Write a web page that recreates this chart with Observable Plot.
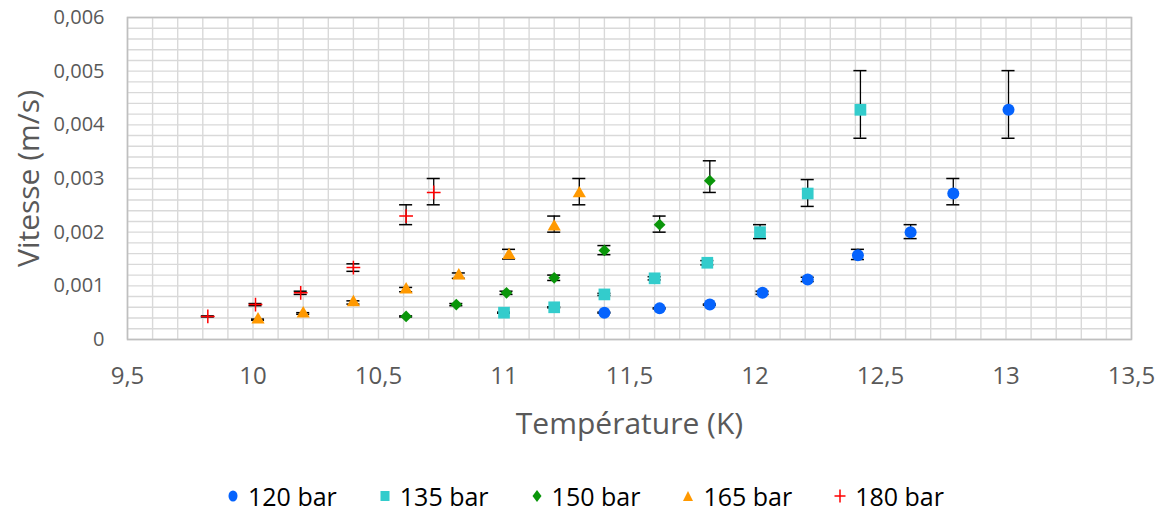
<!DOCTYPE html>
<html><head><meta charset="utf-8">
<script src="https://cdn.jsdelivr.net/npm/d3@7"></script>
<script src="https://cdn.jsdelivr.net/npm/@observablehq/plot@0.6"></script>
<style>
body{margin:0;background:#fff;font-family:"Open Sans",sans-serif;}
#chart svg{display:block;}
#legend{display:flex;justify-content:center;align-items:center;gap:42px;font-size:25px;color:#000;height:40px;margin-top:16px;padding-left:6px;}
#legend span{display:flex;align-items:center;gap:9px;}
</style></head><body>
<div id="chart"></div>
<div id="legend"></div>
<script>
const series = ["120 bar","135 bar","150 bar","165 bar","180 bar"];
const colors = ["#0563fd","#33cccc","#0a960a","#ff9900","#ff0000"];
const symbols = ["circle","square","diamond2","triangle","plus"];

const T120 = [11.4, 11.62, 11.82, 12.03, 12.21, 12.41, 12.62, 12.79, 13.01];
const V120 = [0.0005, 0.00058, 0.00065, 0.00087, 0.00112, 0.00157, 0.00200, 0.00272, 0.00428];
const L120 = [0.00049, 0.00057, 0.00064, 0.00084, 0.00108, 0.00149, 0.00188, 0.00251, 0.00375];
const H120 = [0.00051, 0.00059, 0.00066, 0.00090, 0.00116, 0.00168, 0.00214, 0.00300, 0.00501];

const T135 = [11.0, 11.2, 11.4, 11.6, 11.81, 12.02, 12.21, 12.42];
const V135 = [0.0005, 0.0006, 0.00084, 0.00114, 0.00143, 0.00200, 0.00272, 0.00428];
const L135 = [0.00049, 0.00059, 0.00082, 0.00111, 0.00139, 0.00188, 0.00248, 0.00375];
const H135 = [0.00051, 0.00061, 0.00086, 0.00117, 0.00147, 0.00214, 0.00298, 0.00501];

const T150 = [10.61, 10.81, 11.01, 11.2, 11.4, 11.62, 11.82];
const V150 = [0.00043, 0.00065, 0.00087, 0.00115, 0.00166, 0.00214, 0.00296];
const L150 = [0.00042, 0.00063, 0.00084, 0.00110, 0.00158, 0.00200, 0.00274];
const H150 = [0.00044, 0.00067, 0.00090, 0.00120, 0.00175, 0.00230, 0.00333];

const T165 = [10.02, 10.2, 10.4, 10.61, 10.82, 11.02, 11.2, 11.3];
const V165 = [0.00037, 0.00048, 0.00069, 0.00093, 0.00119, 0.00157, 0.0021, 0.00272];
const L165 = [0.00036, 0.00047, 0.00066, 0.00089, 0.00114, 0.00150, 0.00200, 0.00251];
const H165 = [0.00038, 0.00050, 0.00072, 0.00097, 0.00124, 0.00168, 0.00230, 0.00300];

const T180 = [9.82, 10.01, 10.19, 10.4, 10.61, 10.72];
const V180 = [0.00043, 0.00065, 0.00087, 0.00134, 0.0023, 0.00274];
const L180 = [0.00042, 0.00063, 0.00084, 0.00127, 0.00214, 0.00251];
const H180 = [0.00044, 0.00067, 0.00090, 0.00141, 0.00251, 0.00300];

const xTicks = [9.5, 10, 10.5, 11, 11.5, 12, 12.5, 13, 13.5];
const yTicks = [0, 0.001, 0.002, 0.003, 0.004, 0.005, 0.006];
const xTitle = "Température (K)";
const yTitle = "Vitesse (m/s)";

const raw = [[T120,V120,L120,H120],[T135,V135,L135,H135],[T150,V150,L150,H150],[T165,V165,L165,H165],[T180,V180,L180,H180]];
const data = raw.flatMap(([T,V,L,H], i) => T.map((t, j) => ({s: series[i], i, x: t, y: V[j], lo: L[j], hi: H[j]})));

const xGrid = d3.range(95, 136).map(d => d / 10);
const yGrid = d3.range(0, 31).map(d => d * 0.0002);
const fmt = d => d === 0 ? "0" : String(d).replace(".", ",");
const cap = 0.026;

const sizes = {circle: 6, square: 6.6, diamond2: 5.3, triangle: 4.9, plus: 4.5};

const plot = Plot.plot({
  width: 1165, height: 460,
  marginLeft: 127, marginRight: 34, marginTop: 17, marginBottom: 121,
  style: {fontFamily: "'Open Sans', sans-serif", background: "#fff"},
  x: {domain: [9.5, 13.5]},
  y: {domain: [0, 0.006]},
  marks: [
    Plot.ruleX(xGrid, {stroke: "#d9d9d9", strokeWidth: 1.4}),
    Plot.ruleY(yGrid, {stroke: "#d9d9d9", strokeWidth: 1.4}),
    Plot.frame({stroke: "#bfbfbf", strokeWidth: 1.6}),
    Plot.axisX({ticks: xTicks, tickFormat: fmt, tickSize: 0, tickPadding: 27, fontSize: 24, color: "#595959", label: null}),
    Plot.axisY({ticks: yTicks, tickFormat: fmt, tickSize: 0, tickPadding: 23, fontSize: 20, color: "#595959", label: null}),
    Plot.text([xTitle], {frameAnchor: "bottom", dy: 94, fontSize: 30, fill: "#595959"}),
    Plot.text([yTitle], {frameAnchor: "left", textAnchor: "middle", rotate: -90, dx: -98, fontSize: 30, fill: "#595959"}),
    Plot.ruleX(data, {x: "x", y1: "lo", y2: "hi", stroke: "#000", strokeWidth: 1.3}),
    Plot.ruleY(data, {y: "lo", x1: d => d.x - cap, x2: d => d.x + cap, stroke: "#000", strokeWidth: 1.5}),
    Plot.ruleY(data, {y: "hi", x1: d => d.x - cap, x2: d => d.x + cap, stroke: "#000", strokeWidth: 1.5}),
    ...series.map((s, i) => {
      const sym = symbols[i];
      const opts = {x: "x", y: "y", symbol: () => sym, r: sizes[sym]};
      if (sym === "plus") Object.assign(opts, {stroke: colors[i], strokeWidth: 1.5, fill: "none"});
      else Object.assign(opts, {fill: colors[i], stroke: "none"});
      return Plot.dot(data.filter(d => d.i === i), opts);
    })
  ]
});
document.getElementById("chart").append(plot);

const leg = document.getElementById("legend");
series.forEach((s, i) => {
  const item = document.createElement("span");
  const shapes = {
    circle: `<ellipse cx="6" cy="9" rx="4.5" ry="5.5" fill="${colors[i]}"/>`,
    square: `<rect x="1.5" y="4" width="9" height="10" fill="${colors[i]}"/>`,
    diamond2: `<path d="M6 3 L10.5 9 L6 15 L1.5 9 Z" fill="${colors[i]}"/>`,
    triangle: `<path d="M6 4 L11 14 L1 14 Z" fill="${colors[i]}"/>`,
    plus: `<path d="M6 2.5 V15.5 M0.5 9 H11.5" stroke="${colors[i]}" stroke-width="1.5" fill="none"/>`
  };
  item.innerHTML = `<svg width="12" height="18">${shapes[symbols[i]]}</svg>${s}`;
  leg.append(item);
});
</script>
</body></html>
